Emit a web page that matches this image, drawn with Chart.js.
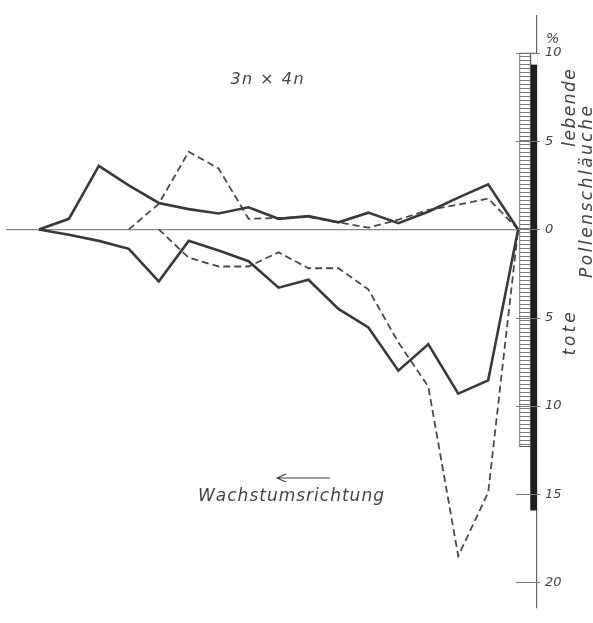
<!DOCTYPE html>
<html>
<head>
<meta charset="utf-8">
<script src="https://cdn.jsdelivr.net/npm/chart.js@4"></script>
<style>
  body { margin: 0; background: #fff; }
  canvas { display: block; }
</style>
</head>
<body>
<canvas id="chart" width="593" height="623"></canvas>
<script>
// Messstellen längs des Schlauchs (gleiche Abstände)
const stations = [0, 1, 2, 3, 4, 5, 6, 7, 8, 9, 10, 11, 12, 13, 14, 15, 16];

// lebende Pollenschläuche (nach oben), %
const livingSolid = [0, 0.6, 3.6, 2.5, 1.5, 1.15, 0.9, 1.25, 0.6, 0.75, 0.4, 0.95, 0.35, 1.0, 1.8, 2.55, 0];
const livingDashed = [null, null, null, 0, 1.45, 4.4, 3.45, 0.6, 0.65, 0.7, 0.4, 0.1, 0.55, 1.1, 1.4, 1.75, 0];

// tote Pollenschläuche (nach unten), %
const deadSolid = [0, -0.3, -0.65, -1.1, -2.95, -0.65, -1.2, -1.8, -3.3, -2.85, -4.5, -5.55, -8.0, -6.5, -9.3, -8.55, 0];
const deadDashed = [null, null, null, null, 0, -1.6, -2.1, -2.1, -1.3, -2.2, -2.2, -3.4, -6.4, -8.9, -18.5, -14.9, 0];

// Säulen an der Skala
const ladderBar = [-12.3, 10];
const blackBar = [-15.9, 9.3];

const tickValues = [-20, -15, -10, -5, 0, 5, 10];

const ink = '#3a3a3a';
const fontFamily = '"DejaVu Sans", sans-serif';

function toPoints(values) {
  return stations.map((s, i) => ({ x: s, y: values[i] }));
}

// Leiter-Muster für die schraffierte Säule
const pat = document.createElement('canvas');
pat.width = 12;
pat.height = 4;
const pctx = pat.getContext('2d');
pctx.fillStyle = '#fff';
pctx.fillRect(0, 0, 12, 4);
pctx.fillStyle = '#777';
pctx.fillRect(0, 0, 12, 1);
const ladderFill = document.getElementById('chart').getContext('2d').createPattern(pat, 'repeat');

const lineStyle = { borderColor: ink, borderWidth: 2.6, pointRadius: 0, tension: 0, fill: false };
const dashStyle = { borderColor: '#4a4a4a', borderWidth: 1.8, borderDash: [7, 4], pointRadius: 0, tension: 0, fill: false };
const barStyle = { type: 'bar', grouped: false, borderSkipped: false };

// gespreizte Schrift ohne letterSpacing-Zustand im Kontext
function spacedText(ctx, text, x, y, gap) {
  const total = [...text].reduce((w, c) => w + ctx.measureText(c).width + gap, -gap);
  let cx = x - total / 2;
  for (const c of text) {
    ctx.fillText(c, cx, y);
    cx += ctx.measureText(c).width + gap;
  }
}

const decorations = {
  id: 'decorations',
  afterDatasetsDraw(chart) {
    const ctx = chart.ctx;
    const y = chart.scales.y;
    const right = chart.chartArea.right;
    ctx.save();
    ctx.strokeStyle = '#777';
    ctx.lineWidth = 1;
    tickValues.forEach(v => {
      const py = Math.round(y.getPixelForValue(v)) + 0.5;
      ctx.beginPath();
      ctx.moveTo(right - 21, py);
      ctx.lineTo(right + 3, py);
      ctx.stroke();
    });

    ctx.fillStyle = '#444';
    ctx.textBaseline = 'middle';
    ctx.textAlign = 'left';
    ctx.font = 'italic 14px ' + fontFamily;
    ctx.fillText('%', right + 9, y.getPixelForValue(10) - 14);

    ctx.font = 'italic 16px ' + fontFamily;
    spacedText(ctx, '3n \u00d7 4n', 267, 80, 1.5);

    ctx.font = 'italic 17px ' + fontFamily;
    spacedText(ctx, 'Wachstumsrichtung', 291, 497, 1);

    // Pfeil
    ctx.strokeStyle = '#444';
    ctx.lineWidth = 1.2;
    ctx.beginPath();
    ctx.moveTo(330, 478);
    ctx.lineTo(277, 478);
    ctx.moveTo(286, 474);
    ctx.lineTo(277, 478);
    ctx.lineTo(286, 482);
    ctx.stroke();

    // senkrechte Beschriftung
    ctx.font = 'italic 17px ' + fontFamily;
    [['lebende', 571, 108, 1.5], ['Pollenschläuche', 588, 192, 2.5], ['tote', 571, 334, 3]].forEach(([t, x, cy, sp]) => {
      ctx.save();
      ctx.translate(x, cy);
      ctx.rotate(-Math.PI / 2);
      spacedText(ctx, t, 0, 0, sp);
      ctx.restore();
    });
    ctx.restore();
  }
};

new Chart(document.getElementById('chart'), {
  type: 'line',
  data: {
    datasets: [
      { ...lineStyle, data: toPoints(livingSolid) },
      { ...dashStyle, data: toPoints(livingDashed) },
      { ...lineStyle, data: toPoints(deadSolid) },
      { ...dashStyle, data: toPoints(deadDashed) },
      {
        ...barStyle, data: [{ x: 16.23, y: ladderBar }], backgroundColor: ladderFill,
        borderColor: '#555', borderWidth: 1, barThickness: 11
      },
      {
        ...barStyle, data: [{ x: 16.55, y: blackBar }], backgroundColor: '#1e1e1e',
        borderWidth: 0, barThickness: 8
      },
      {
        ...barStyle, data: [{ x: 16.55, y: [blackBar[1], ladderBar[1]] }], backgroundColor: '#fff',
        borderColor: '#555', borderWidth: 1, barThickness: 8
      }
    ]
  },
  options: {
    responsive: false,
    animation: false,
    layout: { padding: { top: 8, bottom: 1, left: 6, right: 0 } },
    plugins: { legend: { display: false }, tooltip: { enabled: false } },
    scales: {
      x: {
        type: 'linear',
        min: -1.1,
        max: 16.63,
        offset: false,
        display: false,
        grid: { display: false }
      },
      y: {
        position: 'right',
        min: -21.4,
        max: 12.1,
        afterBuildTicks: scale => { scale.ticks = tickValues.map(v => ({ value: v })); },
        afterFit: scale => { scale.width = 56; },
        border: { display: true, color: '#666', width: 1.2 },
        grid: {
          drawTicks: false,
          color: ctx => ctx.tick && ctx.tick.value === 0 ? '#888' : 'transparent',
          lineWidth: 1.2
        },
        ticks: {
          padding: 8,
          color: '#444',
          font: { family: fontFamily, style: 'italic', size: 13 },
          callback: v => Math.abs(v)
        }
      }
    }
  },
  plugins: [decorations]
});
</script>
</body>
</html>
